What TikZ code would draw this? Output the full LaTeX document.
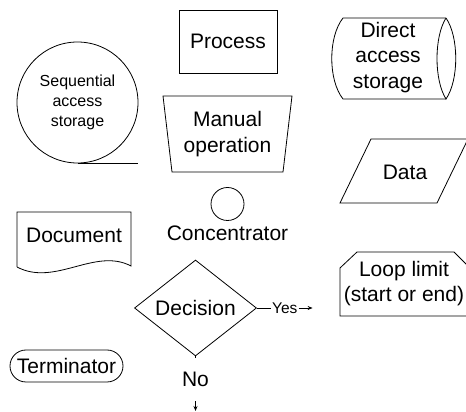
\documentclass[tikz,border=0pt]{standalone}
\usepackage{fontspec}
\setmainfont{Liberation Sans}
\usetikzlibrary{positioning,shapes.geometric,arrows.meta}
\tikzset{
    symbol/.style={draw, line width=0.8pt},
    label big/.style={font=\fontsize{21}{25.5}\selectfont, align=center, inner sep=1pt},
    label small/.style={font=\fontsize{16}{20}\selectfont, align=center, inner sep=1pt},
    label tiny/.style={font=\fontsize{15.5}{18}\selectfont, inner sep=1pt},
    flow arrow/.style={line width=0.8pt, -{Stealth[length=5pt, width=4pt]}}
}

\begin{document}
\begin{tikzpicture}[x=1pt, y=1pt]
    \useasboundingbox (0,0) rectangle (466,412);
    \clip (0,0) rectangle (466,412);

    % Sequential access storage
    \node[symbol, circle, minimum size=121pt, inner sep=0pt] (seq) at (77.5,309.5) {};
    \node[label small] (seqtext) at (77.5,310) {Sequential\\access\\storage};
    \draw[symbol] (seq.south) -- (seq.south -| seq.east);

    % Process
    \node[symbol, label big, rectangle, minimum width=98pt, minimum height=63pt] (proc) at (228,370.5) {Process};

    % Manual operation
    \node[label big] (manual) at (227.5,278) {Manual\\operation};
    \draw[symbol] (163,316) -- (292,316) -- (283,240) -- (172,240) -- cycle;

    % Concentrator
    \node[symbol, circle, minimum size=33pt, inner sep=0pt] (conc) at (227.5,208) {};
    \node[label big, below=4pt of conc] (conctext) {Concentrator};

    % Direct access storage
    \node[label big] (direct) at (388,354.5) {Direct\\access\\storage};
    \draw[symbol] (446,394) -- (343,394) .. controls (328,375) and (328,332) .. (343,313) -- (446,313);
    \draw[symbol] (446,394) .. controls (434,375) and (434,332) .. (446,313)
        .. controls (459,332) and (459,375) .. (446,394);

    % Data
    \node[label big] (data) at (405,240) {Data};
    \draw[symbol] (340,209) -- (371,273) -- (468,273) -- (437,209) -- cycle;

    % Document
    \node[label big] (doc) at (74,177) {Document};
    \draw[symbol] (17,145) -- (17,200) -- (131,200) -- (131,146) .. controls (95,165) and (55,125) .. (17,145);

    % Decision
    \node[symbol, label big, diamond, inner sep=0pt, minimum width=122pt, minimum height=81pt] (dec) at (195.5,104) {Decision};
    \node[label tiny, right=14pt of dec] (yes) {Yes};
    \coordinate[right=14pt of yes] (yesend);
    \draw[symbol] (dec.east) -- (yes.west);
    \draw[flow arrow] (yes.east) -- (yesend);

    \node[label big, inner sep=0pt, minimum height=43pt] (no) at (195.5,32.5) {No};
    \coordinate (noend) at (195.5,1);
    \draw[symbol] (dec.south) -- (no.north);
    \draw[flow arrow] (no.south) -- (noend);

    % Terminator
    \node[symbol, label big, rectangle, rounded corners=16pt, minimum width=113pt, minimum height=32pt] (term) at (66.5,46) {Terminator};

    % Loop limit
    \node[label big] (loop) at (404,128.5) {Loop limit\\(start or end)};
    \draw[symbol] (340,96) -- (340,144) -- (357,160) -- (454,160) -- (471,143) -- (471,96) -- cycle;
\end{tikzpicture}
\end{document}
